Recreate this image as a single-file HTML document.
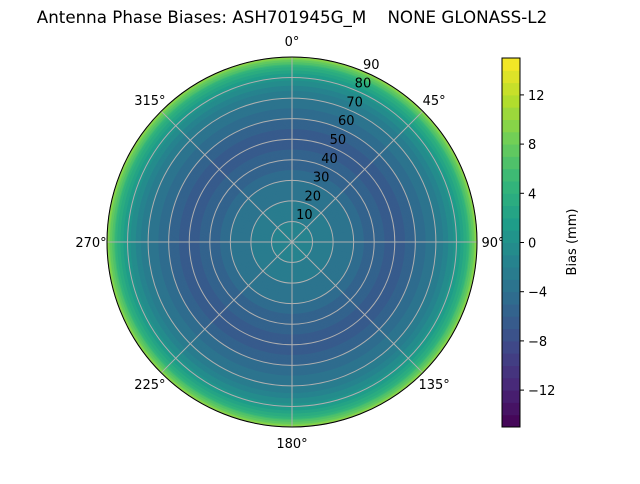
<!DOCTYPE html>
<html><head><meta charset="utf-8"><style>
body{margin:0;background:#fff;font-family:"DejaVu Sans","Liberation Sans",sans-serif}
</style></head><body>
<svg id="c" width="640" height="480" xmlns="http://www.w3.org/2000/svg" font-family="DejaVu Sans, Liberation Sans, sans-serif">
<text x="292" y="23" text-anchor="middle" font-size="16.7" style="white-space:pre">Antenna Phase Biases: ASH701945G_M    NONE GLONASS-L2</text>
<g id="plot"></g>
<g id="cbar"></g>
<text transform="translate(576,242) rotate(-90)" text-anchor="middle" font-size="13">Bias (mm)</text>
</svg>
<script>
const zenithDeg=[0,5,10,15,20,25,30,35,40,45,50,55,60,65,70,75,80,85,90];
const biasMm=[-1,-1.5,-2,-2.5,-3,-3.5,-4,-5,-5.5,-6,-6.5,-6,-5,-4,-3,-1.5,0.5,4,10];
const radialTicks=[10,20,30,40,50,60,70,80,90];
const angleTicks=[0,45,90,135,180,225,270,315];
const cbarTicks=[-12,-8,-4,0,4,8,12];
const vmin=-15,vmax=15;
const NS='http://www.w3.org/2000/svg';
const cx=292,cy=242,R=185;
const rS=z=>z/90*R;
const vir=[[68,1,84],[72,40,120],[62,74,137],[49,104,142],[38,130,142],[31,158,137],[53,183,121],[110,206,88],[181,222,43],[253,231,37]];
function cmap(v){let t=(v-vmin)/(vmax-vmin);t=Math.max(0,Math.min(1,t));
 const q=Math.min(29,Math.floor(t*30));t=(q+0.5)/30;
 const p=t*(vir.length-1),i=Math.min(vir.length-2,Math.floor(p)),f=p-i;
 const c=vir[i].map((a,k)=>Math.round(a+(vir[i+1][k]-a)*f));return `rgb(${c})`;}
function interp(z){for(let i=0;i<zenithDeg.length-1;i++){if(z<=zenithDeg[i+1]){const f=(z-zenithDeg[i])/(zenithDeg[i+1]-zenithDeg[i]);return biasMm[i]+(biasMm[i+1]-biasMm[i])*f;}}return biasMm[biasMm.length-1];}
function mk(tag,at,parent){const e=document.createElementNS(NS,tag);for(const k in at)e.setAttribute(k,at[k]);parent.appendChild(e);return e;}
const plot=document.getElementById('plot');
for(let z=90;z>0;z-=0.5){
 const e=mk('circle',{cx:cx,cy:cy,r:rS(z),fill:cmap(interp(z-0.25))},plot);
 
 
}
radialTicks.forEach(t=>{const e=mk('circle',{cx:cx,cy:cy,r:rS(t),fill:'none',stroke:'#b0b0b0','stroke-width':1},plot);
 
 
});
angleTicks.forEach(a=>{const r=a*Math.PI/180;
 const e=mk('line',{x1:cx,y1:cy,x2:cx+R*Math.sin(r),y2:cy-R*Math.cos(r),stroke:'#b0b0b0','stroke-width':1},plot);
 
 
 const d=R+16;
 const l=mk('text',{x:cx+d*Math.sin(r),y:cy-d*Math.cos(r)+5,'text-anchor':'middle','font-size':13},plot);l.textContent=a+'°';
 
 
});
radialTicks.forEach(t=>{
 const a=24*Math.PI/180,d=rS(t)+10;
 const l=mk('text',{x:cx+d*Math.sin(a),y:cy-d*Math.cos(a)+5,'text-anchor':'middle','font-size':13},plot);l.textContent=t;
 
 
});
const ob=mk('circle',{cx:cx,cy:cy,r:R,fill:'none',stroke:'#000','stroke-width':1},plot);


const cb=document.getElementById('cbar');
const bx=502,bw=18,by0=58,by1=427;
const cy_=v=>by1-(v-vmin)/(vmax-vmin)*(by1-by0);
for(let v=vmin;v<vmax;v++){const e=mk('rect',{x:bx,y:cy_(v+1),width:bw,height:cy_(v)-cy_(v+1)+0.5,fill:cmap(v+0.5)},cb);
 
 }
const fr=mk('rect',{x:bx,y:by0,width:bw,height:by1-by0,fill:'none',stroke:'#000','stroke-width':1},cb);


cbarTicks.forEach(t=>{const y=cy_(t);
 const e=mk('line',{x1:bx+bw,x2:bx+bw+4,y1:y,y2:y,stroke:'#000'},cb);
 
 
 const l=mk('text',{x:bx+bw+8,y:y+5,'font-size':13},cb);l.textContent=t<0?'−'+(-t):t;
 
 
});
</script>
</body></html>
